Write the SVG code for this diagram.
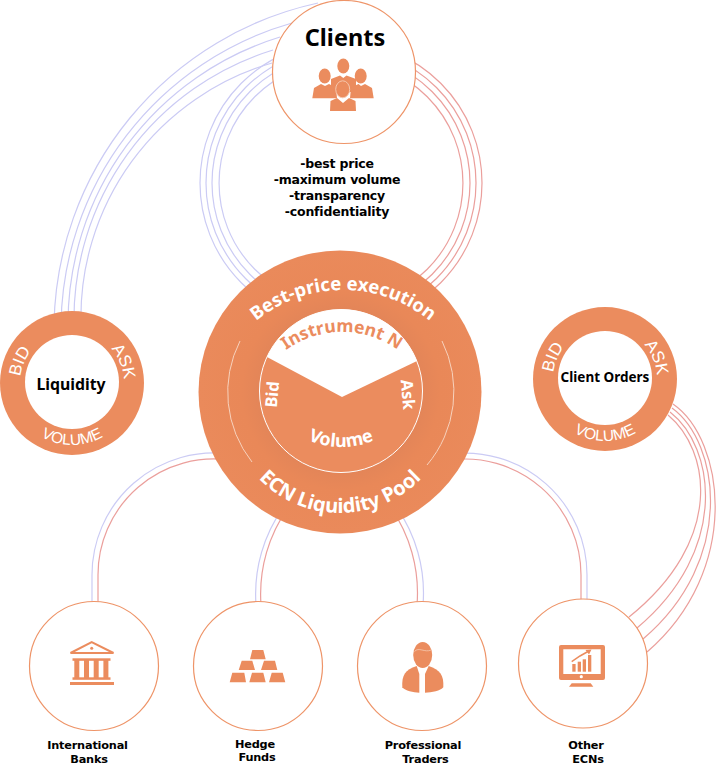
<svg xmlns="http://www.w3.org/2000/svg" width="718" height="779" viewBox="0 0 718 779">
<style>
.b{fill:none;stroke:#cbcbf4;stroke-width:1.2}
.r{fill:none;stroke:#eb9f9c;stroke-width:1.2}
.o{fill:#eb8c5e}
.w{fill:#fff}
.node{fill:#fff;stroke:#ee9468;stroke-width:1.2}
text{font-family:"Noto Sans","Open Sans",sans-serif;font-weight:bold;text-anchor:middle;fill:#000}
.lab{font-family:"DejaVu Sans",sans-serif;font-size:11.300px;letter-spacing:-0.2px}
.lst{font-family:"DejaVu Sans",sans-serif;font-size:12.500px;letter-spacing:-0.2px}
.rt{font-family:"Liberation Sans",Arial,sans-serif;font-weight:normal;font-size:17px;fill:#fff}
.rv{font-size:15.500px}
.mt{fill:#fff}
</style>
<defs>
<radialGradient id="g" gradientUnits="userSpaceOnUse" cx="341" cy="391" r="142">
<stop offset="0.57" stop-color="#e38558"/><stop offset="0.7" stop-color="#e98858"/><stop offset="1" stop-color="#ea8a5b"/>
</radialGradient>
<path id="up" d="M-52 0A52 52 0 0 1 52 0"/>
<path id="dn" d="M-62 0A62 62 0 0 0 62 0"/>
<path id="bp" d="M206 427A137 137 0 0 1 480 427"/>
<path id="ecn" d="M226.500 399.500A113.500 113.500 0 0 0 453.500 399.500"/>
<path id="ins" d="M246 428A96 96 0 0 1 438 428"/>
<path id="vol" d="M258 364A83 83 0 0 0 424 364"/>
</defs>
<g id="connectors">
<path class="b" d="M54 325A335 335 0 0 1 318 3"/>
<path class="b" d="M61 325A318 318 0 0 1 292 23"/>
<path class="b" d="M68 325A300 300 0 0 1 280 37"/>
<path class="b" d="M74 325A282 282 0 0 1 273 50"/>
<path class="b" d="M81 325A265 265 0 0 1 272 63"/>
<path class="b" d="M341 42A141 141 0 0 0 341 324"/>
<path class="b" d="M341 48A135 135 0 0 0 341 318"/>
<path class="b" d="M341 54A129 129 0 0 0 341 312"/>
<path class="b" d="M341 61A122 122 0 0 0 341 305"/>
<path class="r" d="M341 42A141 141 0 0 1 341 324"/>
<path class="r" d="M341 48A135 135 0 0 1 341 318"/>
<path class="r" d="M341 54A129 129 0 0 1 341 312"/>
<path class="r" d="M341 61A122 122 0 0 1 341 305"/>
<path class="b" d="M92 605V575A122 122 0 0 1 230 454"/>
<path class="r" d="M98 605V575A116 116 0 0 1 230 460"/>
<path class="b" d="M256 605A150 150 0 0 1 285 505"/>
<path class="r" d="M261 605A150 150 0 0 1 290 505"/>
<path class="r" d="M417 605A150 150 0 0 0 389 505"/>
<path class="b" d="M423 605A150 150 0 0 0 395 505"/>
<path class="r" d="M581 605V575A116 116 0 0 0 450 460"/>
<path class="b" d="M587 605V575A122 122 0 0 0 450 454"/>
<path class="r" d="M668 415C710 450 725 540 629 617"/>
<path class="r" d="M670 412C715 447 730 550 637 628"/>
<path class="r" d="M672 408C720 443 736 560 643 639"/>
<path class="r" d="M673 404C725 440 742 570 647 652"/>
</g>
<g id="clients">
<circle class="node" cx="344" cy="72" r="71.500"/>
<text x="345" y="46" style="font-size:23.500px">Clients</text>
<g class="o">
<ellipse cx="343.300" cy="66" rx="6" ry="7.500"/>
<path d="M331 92V79L340 75.500L343.300 78L346.500 75.500L356 79V92Z"/>
<ellipse cx="324.700" cy="76" rx="6" ry="7.500"/>
<path d="M312.300 98.300L314 88L321 84L325 86L329 84L336 87.500L337 98.300Z"/>
<ellipse cx="360.700" cy="76" rx="6" ry="7.500"/>
<path d="M350 98.300L351 87.500L358.500 84L361 86L365 84L372 88L373.700 98.300Z"/>
<ellipse cx="342.700" cy="89.300" rx="7" ry="8.500" stroke="#f6c7ad" stroke-width="1"/>
<path d="M330 111L330.500 101L337 98L343 103L349 98L355.500 101L356 111Z"/>
</g>
</g>
<g id="list">
<text class="lst" x="337" y="168">-best price</text>
<text class="lst" x="337" y="184">-maximum volume</text>
<text class="lst" x="337" y="200">-transparency</text>
<text class="lst" x="337" y="216">-confidentiality</text>
</g>
<g id="liquidity" transform="translate(72 383)">
<circle class="o" r="72"/>
<circle class="w" cy="-1" r="47"/>
<text class="rt"><textPath href="#up" startOffset="12.600%">BID</textPath></text>
<text class="rt"><textPath href="#up" startOffset="87.400%">ASK</textPath></text>
<text class="rt rv"><textPath href="#dn" startOffset="50%">VOLUME</textPath></text>
<text y="7" x="-1" style="font-size:15.800px">Liquidity</text>
</g>
<g id="client-orders" transform="translate(605 379)">
<circle class="o" r="72"/>
<circle class="w" cy="-1" r="47"/>
<text class="rt"><textPath href="#up" startOffset="12.600%">BID</textPath></text>
<text class="rt"><textPath href="#up" startOffset="87.400%">ASK</textPath></text>
<text class="rt rv"><textPath href="#dn" startOffset="50%">VOLUME</textPath></text>
<text y="3" style="font-size:13.500px">Client Orders</text>
</g>
<g id="pool">
<circle cx="340" cy="392" r="141.500" fill="url(#g)"/>
<path d="M240 341A112.500 112.500 0 0 0 252 462M442 341A113.500 113.500 0 0 1 427 465" fill="none" stroke="#f7d2bd" stroke-width="1"/>
<circle cx="341" cy="391" r="81.500" class="o" stroke="#fff" stroke-width="1"/>
<path class="w" d="M267 357A81.500 81.500 0 0 1 417 361L342 397Z"/>
<text class="mt" style="font-size:18.500px"><textPath href="#bp" startOffset="50%">Best-price execution</textPath></text>
<text class="mt" style="font-size:20px"><textPath href="#ecn" startOffset="50%">ECN Liquidity Pool</textPath></text>
<text style="font-size:17.500px;fill:#eb8c5e"><textPath href="#ins" startOffset="50%">Instrument N</textPath></text>
<text class="mt" style="font-size:18px"><textPath href="#vol" startOffset="50%">Volume</textPath></text>
<text class="mt" style="font-size:16.500px" transform="translate(278 395) rotate(-85)">Bid</text>
<text class="mt" style="font-size:16.500px" transform="translate(402 395) rotate(85)">Ask</text>
</g>
<g id="banks">
<circle class="node" cx="94" cy="666" r="64.500"/>
<g class="o">
<path d="M70.500 653L91.700 642L113.500 653Z" fill="none" stroke="#eb8c5e" stroke-width="2"/>
<circle cx="91.700" cy="648.300" r="1.500"/>
<rect x="72.500" y="658.300" width="38" height="2.500"/>
<rect x="74.300" y="660" width="5" height="18"/><rect x="84" y="660" width="5" height="18"/><rect x="93.700" y="660" width="5" height="18"/><rect x="103.400" y="660" width="5" height="18"/>
<rect x="72.500" y="677.300" width="38" height="2.500"/>
<rect x="70" y="682" width="44" height="3"/>
</g>
<text class="lab" x="87.500" y="749">International</text>
<text class="lab" x="89" y="763">Banks</text>
</g>
<g id="funds">
<circle class="node" cx="258" cy="666" r="64.500"/>
<path class="o" d="M252.300 650H263.300L265.700 659.300H250ZM241.700 660.700H252.300L255 670H238.700ZM264 660.700H275L277.300 670H261ZM232.300 672.700H244.300L246 682.300H229.700ZM252 672.700H263.300L265.700 682.300H249.300ZM271.700 672.700H282.700L285.300 682.300H269Z"/>
<text class="lab" x="255" y="748">Hedge</text>
<text class="lab" x="257" y="761">Funds</text>
</g>
<g id="traders">
<circle class="node" cx="422" cy="666" r="64.500"/>
<g class="o">
<ellipse cx="422.700" cy="655" rx="9.500" ry="13"/>
<path d="M402.300 687.300C401.700 675 405 670 416.700 666L419.300 674V692.700C413.300 692.700 405 690.700 402.300 687.300Z"/>
<path d="M425 692.700V674L428.700 666C440 670 444 675 443.300 687.300C440.700 690.700 431.700 692.700 425 692.700Z"/>
</g>
<path d="M414.500 651.500C418.500 646.500 425 653 431 650" fill="none" stroke="#f5c9b0" stroke-width="0.800"/>
<text class="lab" x="423" y="749">Professional</text>
<text class="lab" x="425.500" y="763">Traders</text>
</g>
<g id="ecns">
<circle class="node" cx="583" cy="663.500" r="64.500"/>
<g class="o">
<path fill-rule="evenodd" d="M561 645H603Q605 645 605 647V678Q605 680 603 680H561Q559 680 559 678V647Q559 645 561 645ZM563.300 649.300V674H600.700V649.300Z"/>
<rect x="572.300" y="664" width="3.300" height="7.700"/><rect x="577.700" y="661.700" width="3.300" height="10"/><rect x="582.700" y="659.300" width="3.300" height="12.400"/><rect x="588" y="655" width="3.300" height="16.700"/>
<path d="M571.700 661.700L580 656L588 651.500" fill="none" stroke="#eb8c5e" stroke-width="1.500"/>
<path d="M591.500 649.500L585.500 650L589 654.500Z"/>
<path d="M571.700 683.300H590.700L593.300 686.700H569Z"/>
</g>
<circle class="w" cx="581.300" cy="676.700" r="1.600"/>
<text class="lab" x="586" y="749">Other</text>
<text class="lab" x="588" y="763">ECNs</text>
</g>
</svg>
